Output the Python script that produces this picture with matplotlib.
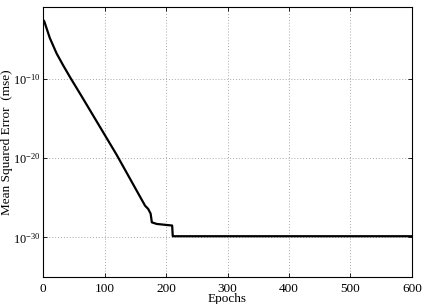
import numpy as np
import matplotlib
matplotlib.use("Agg")
from matplotlib import pyplot as plt

# training curve (epoch, log10 of mse)
epochs = [0, 2, 11, 22, 33, 45, 63, 120, 166, 171, 175, 177, 185, 210, 211, 600]
log_mse = [-2.5, -2.7, -4.8, -6.75, -8.3, -9.9, -12.2, -19.6, -26.0, -26.4,
           -27.0, -28.1, -28.3, -28.5, -29.85, -29.85]

x_ticks = [0, 100, 200, 300, 400, 500, 600]
y_ticks = [1e-30, 1e-20, 1e-10]

plt.rcParams['font.family'] = 'Liberation Serif'
plt.rcParams['mathtext.fontset'] = 'custom'
plt.rcParams['mathtext.rm'] = 'Liberation Serif'
plt.rcParams['mathtext.it'] = 'Liberation Serif:italic'
plt.rcParams['font.size'] = 9.5


def main():
    fig = plt.figure(figsize=(4.22, 3.04), dpi=100)
    ax = fig.add_axes([0.1019, 0.0888, 0.8744, 0.8882])

    mse = 10.0 ** np.array(log_mse)
    ax.semilogy(epochs, mse, color='black', linewidth=1.6)

    ax.set_xlim(0, 600)
    ax.set_ylim(1e-35, 10 ** -0.9)
    ax.set_xticks(x_ticks)
    ax.set_yticks(y_ticks)
    ax.yaxis.set_minor_locator(matplotlib.ticker.NullLocator())
    ax.tick_params(direction='in', top=True, right=True, length=3,
                   width=0.6, labelsize=9.5, pad=4)
    ax.tick_params(axis='y', labelsize=8.8, pad=1.5)
    ax.grid(True, linestyle=(0, (1, 2)), color='#a8a8a8', linewidth=0.7)
    for s in ax.spines.values():
        s.set_linewidth(0.8)

    ax.set_xlabel('Epochs', labelpad=-1)
    ax.set_ylabel('Mean Squared Error  (mse)')
    ax.yaxis.set_label_coords(-0.082, 0.5)

    fig.savefig('out.png', dpi=100)


if __name__ == '__main__':
    main()
